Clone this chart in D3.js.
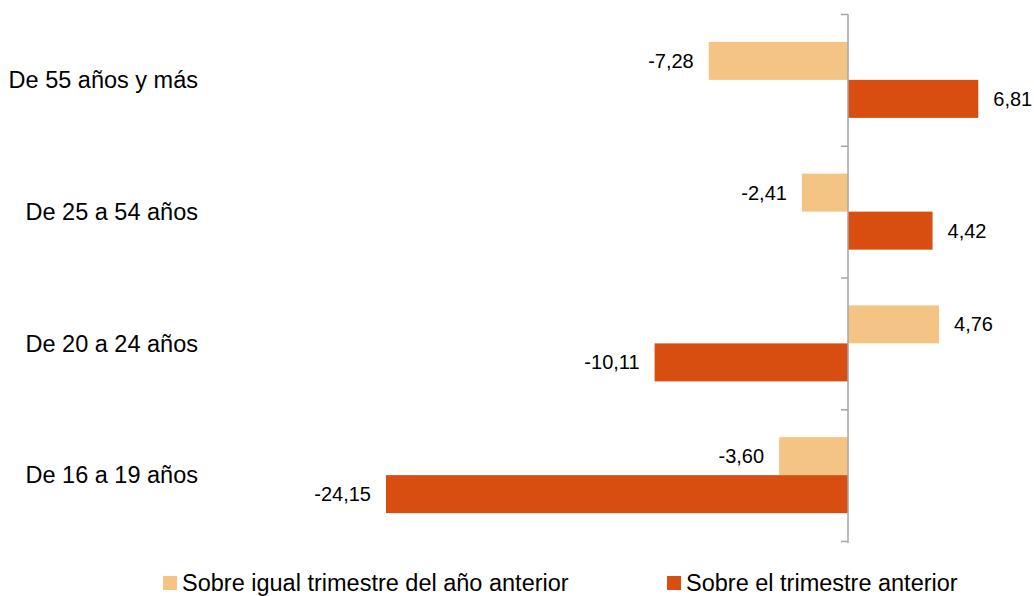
<!DOCTYPE html>
<html>
<head>
<meta charset="utf-8">
<script src="https://d3js.org/d3.v7.min.js"></script>
<style>
  body { margin: 0; background: #fff; }
  text { font-family: "Liberation Sans", Arial, sans-serif; fill: #000; }
</style>
</head>
<body>
<script>
// data
var categories = ["De 55 años y más", "De 25 a 54 años", "De 20 a 24 años", "De 16 a 19 años"];
var seriesNames = ["Sobre igual trimestre del año anterior", "Sobre el trimestre anterior"];
var sobreIgualTrimestre = [-7.28, -2.41, 4.76, -3.60];
var sobreTrimestreAnterior = [6.81, 4.42, -10.11, -24.15];
var colors = ["#F4C485", "#D84E11"];

var width = 1034, height = 596;

var svg = d3.select("body").append("svg")
  .attr("width", width)
  .attr("height", height);

// x: value -> display (zero sits at the axis)
var xScale = d3.scaleLinear().domain([-25, 10]).range([848 - 25 * 19.13, 848 + 10 * 19.13]);

// y: category bands
var yScale = d3.scaleBand().domain(categories).range([14, 541]).paddingInner(0.423).paddingOuter(0.2115);
var ySub = d3.scaleBand().domain([0, 1]).range([0, yScale.bandwidth()]);

// axis with ticks at the band boundaries
var yLin = d3.scaleLinear().domain([0, 4]).range([14, 541]);
var yAxis = d3.axisLeft(yLin).tickValues([0, 1, 2, 3, 4]).tickSize(7).tickSizeOuter(0).tickFormat("");

// spanish decimal comma, plain hyphen for minus
var fmt = function(v) { return v.toFixed(2).replace(".", ","); };

var rows = [];
categories.forEach(function(c, i) {
  rows.push({cat: c, s: 0, v: sobreIgualTrimestre[i]});
  rows.push({cat: c, s: 1, v: sobreTrimestreAnterior[i]});
});

// bars
svg.selectAll(".bar")
  .data(rows)
  .enter().append("rect")
  .attr("class", "bar")
  .attr("x", function(d) { return xScale(Math.min(0, d.v)); })
  .attr("y", function(d) { return yScale(d.cat) + ySub(d.s); })
  .attr("width", function(d) { return Math.abs(xScale(d.v) - xScale(0)); })
  .attr("height", ySub.bandwidth())
  .attr("fill", function(d) { return colors[d.s]; });

// axis
var gAxis = svg.append("g")
  .attr("transform", "translate(" + xScale(0) + ",0)")
  .call(yAxis);
gAxis.selectAll("path, line").attr("stroke", "#A6A6A6").attr("stroke-width", 1.5);
gAxis.select(".domain").attr("d", "M0,14V543");

// value labels
svg.selectAll(".lbl")
  .data(rows)
  .enter().append("text")
  .attr("class", "lbl")
  .attr("x", function(d) { return d.v < 0 ? xScale(d.v) - 15 : xScale(d.v) + 15; })
  .attr("y", function(d) { return yScale(d.cat) + ySub(d.s) + ySub.bandwidth() / 2; })
  .attr("dy", "0.35em")
  .style("font-size", "20px")
  .style("text-anchor", function(d) { return d.v < 0 ? "end" : "start"; })
  .text(function(d) { return fmt(d.v); });

// category labels
svg.selectAll(".cat")
  .data(categories)
  .enter().append("text")
  .attr("class", "cat")
  .attr("x", 198)
  .attr("y", function(d) { return yScale(d) + yScale.bandwidth() / 2; })
  .attr("dy", "0.35em")
  .style("font-size", "23.5px")
  .style("text-anchor", "end")
  .text(function(d) { return d; });

// legend
var legendX = [163, 667];
var legend = svg.selectAll(".legend")
  .data(seriesNames)
  .enter().append("g")
  .attr("class", "legend")
  .attr("transform", function(d, i) { return "translate(" + legendX[i] + ",583)"; });
legend.append("rect")
  .attr("x", 0).attr("y", -7)
  .attr("width", 14).attr("height", 14)
  .attr("fill", function(d, i) { return colors[i]; });
legend.append("text")
  .attr("x", 19)
  .attr("dy", "0.35em")
  .style("font-size", "23.5px")
  .text(function(d) { return d; });
</script>
</body>
</html>
